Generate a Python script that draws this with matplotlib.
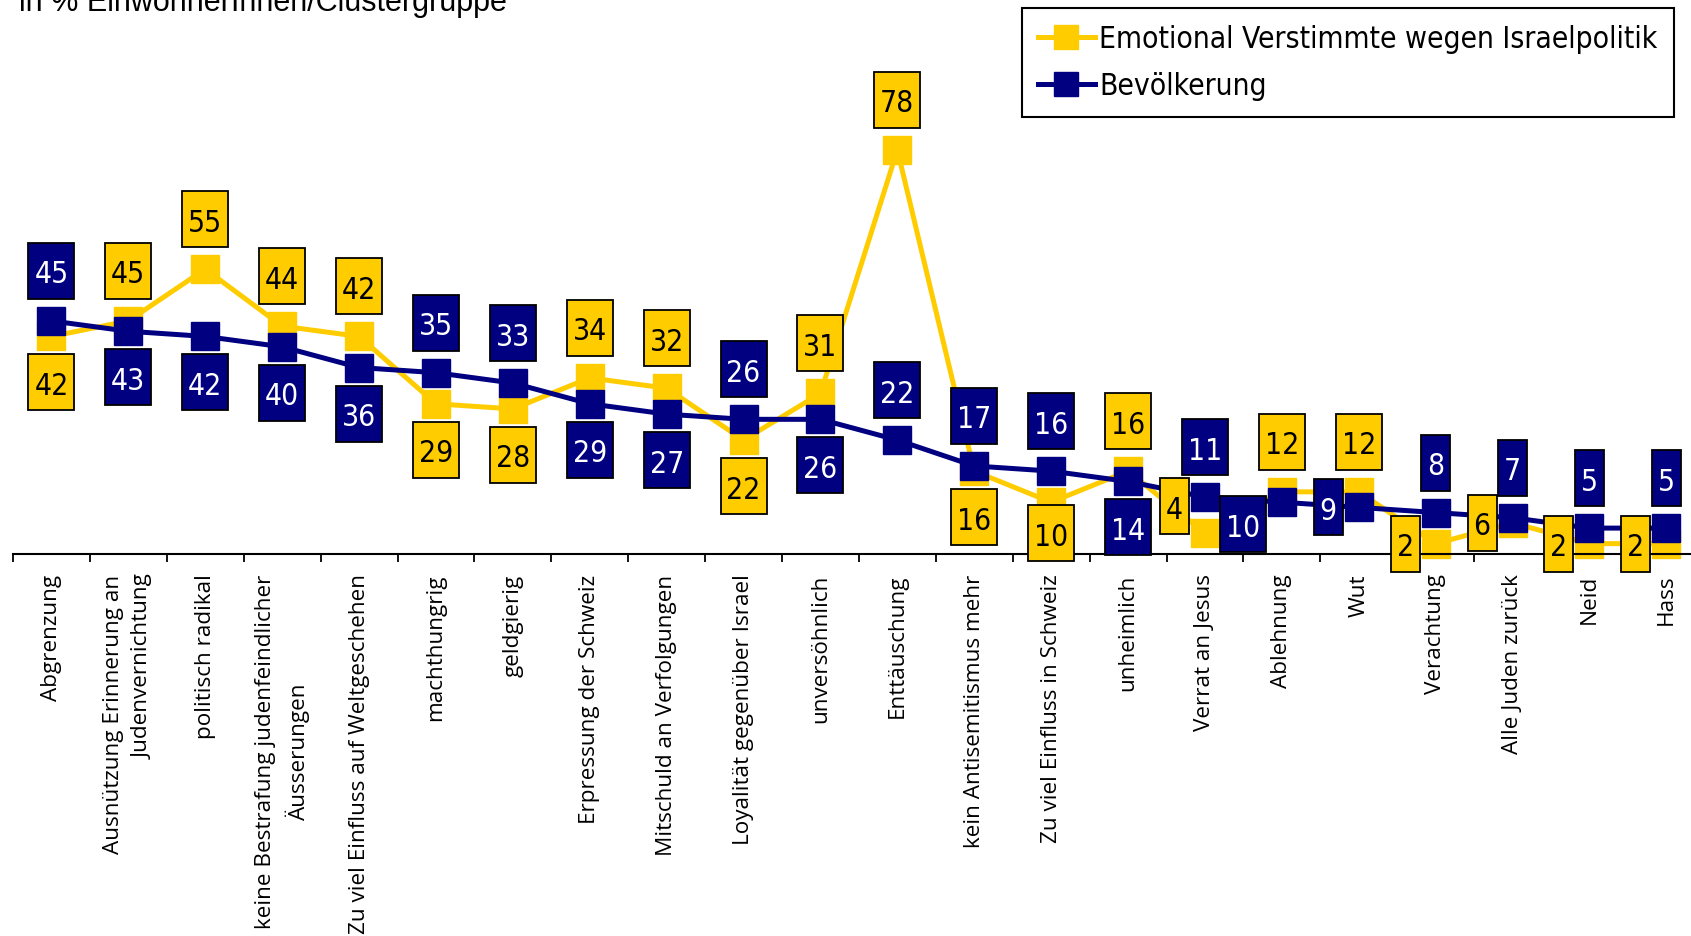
import numpy as np
import matplotlib.pyplot as plt
from matplotlib.lines import Line2D
from matplotlib.patches import Rectangle
from matplotlib.transforms import ScaledTranslation

categories = ["Abgrenzung",
              "Ausnützung Erinnerung an\nJudenvernichtung",
              "politisch radikal",
              "keine Bestrafung judenfeindlicher\nÄusserungen",
              "Zu viel Einfluss auf Weltgeschehen",
              "machthungrig",
              "geldgierig",
              "Erpressung der Schweiz",
              "Mitschuld an Verfolgungen",
              "Loyalität gegenüber Israel",
              "unversöhnlich",
              "Enttäuschung",
              "kein Antisemitismus mehr",
              "Zu viel Einfluss in Schweiz",
              "unheimlich",
              "Verrat an Jesus",
              "Ablehnung",
              "Wut",
              "Verachtung",
              "Alle Juden zurück",
              "Neid",
              "Hass"]
emotional = [42, 45, 55, 44, 42, 29, 28, 34, 32, 22, 31, 78, 16, 10, 16, 4, 12, 12, 2, 6, 2, 2]
bevoelkerung = [45, 43, 42, 40, 36, 35, 33, 29, 27, 26, 26, 22, 17, 16, 14, 11, 10, 9, 8, 7, 5, 5]

series_names = ["Emotional Verstimmte wegen Israelpolitik", "Bevölkerung"]
title = "in % EinwohnerInnen/Clustergruppe"

# where each value box sits relative to its marker
emo_place = "b a a a a b b a a b a a b bs a lu a a l l l l".split()
bev_place = "a b b b b a a b b a b a a a b a ld l a a a a".split()

YELLOW = "#FFCC00"
NAVY = "#000080"
W, H = 1691, 937
DPI = 100

fig = plt.figure(figsize=(W / DPI, H / DPI), dpi=DPI)
ax = fig.add_axes([13 / W, 1 - 555 / H, 22 * 76.9 / W, 555 / H])

x = np.arange(len(categories))
ax.plot(x, emotional, color=YELLOW, lw=3.6, marker="s", markersize=19.5, zorder=2, clip_on=False)
ax.plot(x, bevoelkerung, color=NAVY, lw=3.6, marker="s", markersize=19.5, zorder=3, clip_on=False)

ax.set_xlim(-0.5, len(categories) - 0.5)
ax.set_ylim(0, 555 / 5.18)

for side in ["top", "left", "right"]:
    ax.spines[side].set_visible(False)
ax.spines["bottom"].set_linewidth(1.5)
ax.set_yticks([])
ax.set_xticks(x)
ax.set_xticks(np.arange(-0.5, len(categories), 1), minor=True)
ax.tick_params(axis="x", which="major", length=0, pad=14)
ax.tick_params(axis="x", which="minor", length=6, width=1.3, direction="out")
ax.set_xticklabels(categories, rotation=90, va="top", ha="center",
                   fontsize=16.2, family="Open Sans", linespacing=1.5)
for lab in ax.get_xticklabels():
    lab.set_multialignment("center" if "Äusserungen" in lab.get_text() else "right")

offsets = {"a": (0, 50), "b": (0, -46), "bs": (0, -31), "l": (None, 0),
           "lu": (None, 27), "ld": (None, -22)}


def value_boxes(values, places, face, txt_color):
    for i, (v, p) in enumerate(zip(values, places)):
        s = str(v)
        w = 17 * len(s) + 12
        h = 56
        dx, dy = offsets[p]
        if dx is None:
            dx = -(w / 2 + 16)
        trans = fig.dpi_scale_trans + ScaledTranslation(i, v, ax.transData)
        ax.add_patch(Rectangle(((dx - w / 2) / DPI, (dy - h / 2) / DPI), w / DPI, h / DPI,
                               transform=trans, facecolor=face, edgecolor="black",
                               lw=1.3, zorder=5, clip_on=False))
        ax.text(dx / DPI, dy / DPI, s, transform=trans, ha="center", va="center_baseline",
                color=txt_color, fontsize=21.5, family="DejaVu Sans", fontstretch="condensed",
                zorder=6, clip_on=False)


value_boxes(emotional, emo_place, YELLOW, "black")
value_boxes(bevoelkerung, bev_place, NAVY, "white")

handles = [Line2D([], [], color=YELLOW, lw=3.6, marker="s", markersize=17),
           Line2D([], [], color=NAVY, lw=3.6, marker="s", markersize=17)]
leg = fig.legend(handles, series_names, loc="upper right",
                 bbox_to_anchor=(1674 / W, 1 - 9 / H), bbox_transform=fig.transFigure,
                 fancybox=False, edgecolor="black", framealpha=1, borderaxespad=0,
                 handlelength=1.9, handletextpad=0.15, labelspacing=0.6, borderpad=0.55,
                 prop={"family": "DejaVu Sans", "stretch": "condensed", "size": 21.5})
leg.get_frame().set_linewidth(1.5)

fig.text(19 / W, 1 - 11 / H, title, ha="left", va="baseline",
         fontsize=22, family="Liberation Sans")

fig.savefig("out.png", dpi=DPI)
